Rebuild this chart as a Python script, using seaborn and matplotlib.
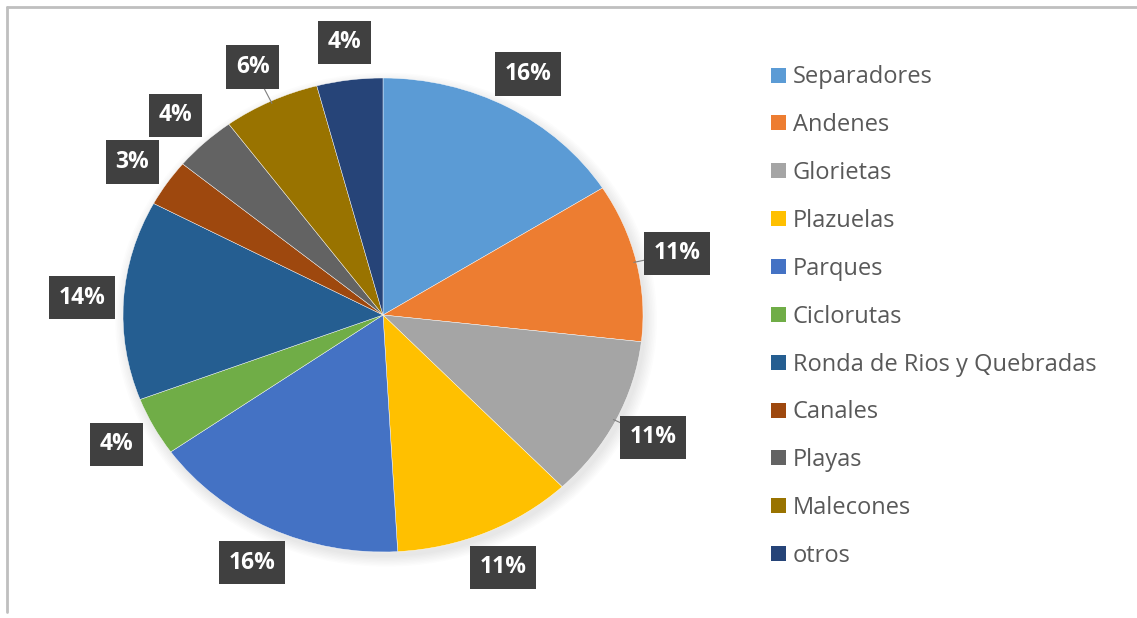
import numpy as np
import matplotlib
matplotlib.use('Agg')
import matplotlib.pyplot as plt
import seaborn as sns
from matplotlib.lines import Line2D
from matplotlib.patches import Patch, Ellipse

sns.set_theme(style='white')
plt.rcParams['font.family'] = ['Open Sans', 'DejaVu Sans']

# datos (porcentaje de cada tipo de espacio)
categorias = ['Separadores', 'Andenes', 'Glorietas', 'Plazuelas', 'Parques', 'Ciclorutas',
              'Ronda de Rios y Quebradas', 'Canales', 'Playas', 'Malecones', 'otros']
valores = [16.0, 10.8, 11.1, 11.2, 16.1, 4.0, 13.6, 3.2, 3.9, 6.0, 4.1]
colores = ['#5B9BD5', '#ED7D31', '#A5A5A5', '#FFC000', '#4472C4', '#70AD47',
           '#255E91', '#9E480E', '#636363', '#997300', '#264478']
con_guia = ['Andenes', 'Glorietas', 'Malecones']

W, H = 1137, 618
fig = plt.figure(figsize=(W / 100, H / 100), dpi=100)
fig.patch.set_facecolor('white')

# ejes en pixeles: centro (383, 315), radio horizontal 260, vertical 237
cx, cy, rx, ry = 383, 315, 260, 237
xl, yl = 1.45, 1.32
ax = fig.add_axes([(cx - xl * rx) / W, (H - cy - yl * ry) / H, 2 * xl * rx / W, 2 * yl * ry / H])

# sombra suave bajo la torta
for k in range(8):
    ax.add_patch(Ellipse((0.012, -0.02), 2 + 0.012 * k, 2 + 0.012 * k,
                         facecolor='black', edgecolor='none', alpha=0.012, zorder=0))

wedges, texts, autotexts = ax.pie(
    valores, colors=colores, startangle=90, counterclock=False,
    autopct='%.0f%%', pctdistance=1.16,
    wedgeprops=dict(linewidth=0.3, edgecolor='white'),
    textprops=dict(color='white', fontsize=16.5, fontweight='bold'))
for t in autotexts:
    t.set_bbox(dict(boxstyle='square,pad=0.42', facecolor='#404040', edgecolor='none'))

# lineas guia cortas
for w, cat in zip(wedges, categorias):
    if cat in con_guia:
        ang = np.deg2rad((w.theta1 + w.theta2) / 2)
        ax.plot([np.cos(ang) * 0.99, np.cos(ang) * 1.06], [np.sin(ang) * 0.99, np.sin(ang) * 1.06],
                color='#7F7F7F', lw=0.8, zorder=1)

ax.set_aspect('auto')
ax.set_xlim(-xl, xl)
ax.set_ylim(-yl, yl)
ax.axis('off')

handles = [Patch(facecolor=c, edgecolor='none') for c in colores]
fig.legend(handles, categorias, loc='upper left', bbox_to_anchor=(762 / W, 1 - 56 / H),
           frameon=False, fontsize=17, labelcolor='#595959',
           handlelength=0.6, handleheight=0.6, handletextpad=0.3, labelspacing=1.01,
           borderaxespad=0)

# borde del grafico (solo arriba e izquierda visibles)
fig.add_artist(Line2D([7 / W, 1], [1 - 7 / H, 1 - 7 / H], color='#BFBFBF', lw=2))
fig.add_artist(Line2D([7 / W, 7 / W], [1 - 7 / H, 1 - 612 / H], color='#BFBFBF', lw=2))

fig.savefig('out.png', dpi=100)
